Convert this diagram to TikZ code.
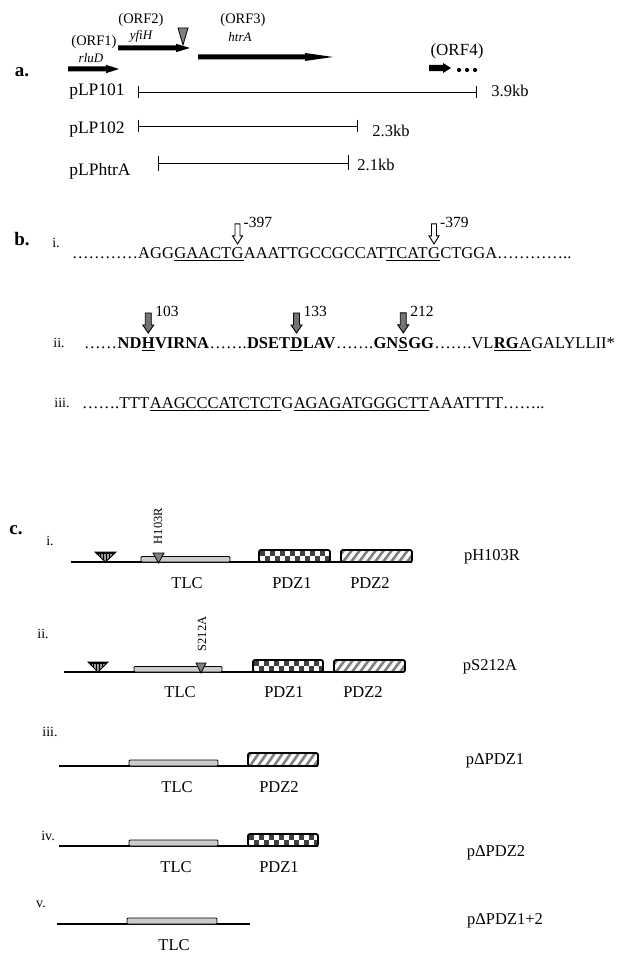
\documentclass[tikz,border=0pt]{standalone}
\usepackage{fontspec}
\setmainfont{Liberation Serif}
\usetikzlibrary{calc}
\newcommand\fs[1]{\fontsize{#1}{#1}\selectfont}
\newcommand\orfarrow[6]{\fill (#1,{#3-#5}) -- ({#2-#4},{#3-#5}) -- ({#2-#4},{#3-#6}) -- (#2,#3) -- ({#2-#4},{#3+#6}) -- ({#2-#4},{#3+#5}) -- (#1,{#3+#5}) -- cycle;}
\newcommand\stritri[3]{%
  \begin{scope}
    \clip (#1,#3) -- (#2,#3) -- ({(#1+#2)/2},{#3+10}) -- cycle;
    \fill[black!40] (#1,#3) rectangle (#2,{#3+10});
    \foreach \k in {0,...,6} \draw[line width=0.8pt] ({#1+3+\k*2.8},#3) -- ++(0,10);
    \fill (#1,#3) rectangle (#2,{#3+2.2});
  \end{scope}
  \draw[line width=0.9pt] (#1,#3) -- (#2,#3) -- ({(#1+#2)/2},{#3+10}) -- cycle;}
\newcommand\mtri[3]{\draw[line width=0.8pt, fill=black!50] (#1,#3) -- (#2,#3) -- ({(#1+#2)/2},{#3+10}) -- cycle;}
\newcommand\pdzcheck[4]{%
  \begin{scope}
    \clip[rounded corners=2pt] (#1,#2) rectangle (#3,#4);
    \fill[white] (#1,#2) rectangle (#3,#4);
    \foreach \i in {0,...,14}{\foreach \j in {0,1}{%
      \pgfmathtruncatemacro\cpar{mod(\i+\j,2)}%
      \ifnum\cpar=0 \fill[black!75] ({#1+1+5*\i},{#2+6*\j}) rectangle ++(5,6);\fi}}
  \end{scope}
  \draw[pdzborder] (#1,#2) rectangle (#3,#4);}
\newcommand\pdzhatch[4]{%
  \begin{scope}
    \clip[rounded corners=2pt] (#1,#2) rectangle (#3,#4);
    \fill[white] (#1,#2) rectangle (#3,#4);
    \foreach \k in {0,...,10}{\draw[black!50, line width=2.6pt] ({#1-6+\k*8},#4) -- ++(9,{#2-#4});}
  \end{scope}
  \draw[pdzborder] (#1,#2) rectangle (#3,#4);}
\tikzset{
  lbltxt/.style={inner sep=0pt, font=\fs{16.5}},
  orftxt/.style={inner sep=0pt, font=\fs{14.5}},
  gentxt/.style={inner sep=0pt, font=\fs{13}\itshape},
  secttxt/.style={inner sep=0pt, font=\fs{19}\bfseries},
  idxtxt/.style={inner sep=0pt, font=\fs{14}},
  numtxt/.style={inner sep=0pt, anchor=base west, font=\fs{15.5}},
  seqtxt/.style={inner sep=0pt, anchor=base west, font=\fs{16.5}},
  bseq/.style={inner sep=0pt, anchor=base west, font=\fs{16.5}\bfseries},
  uline/.style={line width=0.8pt},
  buline/.style={line width=1.3pt},
  barline/.style={line width=0.8pt},
  dnaline/.style={line width=1.4pt},
  tlcbox/.style={fill=black!20, line width=0.9pt, rounded corners=1pt},
  pdzborder/.style={line width=1.8pt, rounded corners=2pt},
  muttxt/.style={inner sep=0pt, rotate=90, font=\fs{12.5}},
  hollowdown/.pic={\draw[line width=0.9pt, fill=white] (0,0) -- (-5,-8) -- (-2.5,-8) -- (-2.5,-20) -- (2.5,-20) -- (2.5,-8) -- (5,-8) -- cycle;},
  graydown/.pic={\draw[line width=0.9pt, fill=black!55] (0,0) -- (-5.5,-8) -- (-3,-8) -- (-3,-20) -- (3,-20) -- (3,-8) -- (5.5,-8) -- cycle;}
}
\begin{document}
\begin{tikzpicture}[x=1pt,y=-1pt]
\useasboundingbox (0,0) rectangle (625,960);
\fill[white] (0,0) rectangle (625,960);
% ---------------- a ----------------
\node[secttxt] (la) at (22,72) {a.};
\node[orftxt] (orf1) at (94,42) {(ORF1)};
\node[gentxt] (rlud) at (91,58) {rluD};
\node[orftxt] (orf2) at (141,20) {(ORF2)};
\node[gentxt] (yfih) at (141,36) {yfiH};
\node[orftxt] (orf3) at (243,20) {(ORF3)};
\node[gentxt] (htra) at (240,37) {htrA};
\node[inner sep=0pt, font=\fs{17}] (orf4) at (457,51) {(ORF4)};
\orfarrow{68}{119}{69}{13}{2.5}{4.2}
\orfarrow{118}{190}{48}{14}{2.5}{4.2}
\orfarrow{198}{333}{57}{28}{2.5}{4}
\orfarrow{429}{451}{68}{8}{3.2}{5}
\fill (459,70) circle (2.1);
\fill (467,70) circle (2.1);
\fill (475,70) circle (2.1);
\draw[line width=0.8pt, fill=black!50] (178,28) -- (188,28) -- (183,45) -- cycle;
\node[inner sep=0pt, font=\fs{17.5}] (p101) at (97,92) {pLP101};
\node[inner sep=0pt, font=\fs{17.5}] (p102) at (97,130) {pLP102};
\node[inner sep=0pt, font=\fs{17.5}] (phtr) at (100,171) {pLPhtrA};
\draw[barline] (138,92) -- (476,92);
\draw[barline] (138,86) -- (138,98);
\draw[barline] (476,86) -- (476,98);
\draw[barline] (138,126) -- (357,126);
\draw[barline] (138,120) -- (138,132);
\draw[barline] (357,120) -- (357,132);
\draw[barline] (158,163) -- (348,163);
\draw[barline] (158,156) -- (158,171);
\draw[barline] (348,155) -- (348,170);
\node[lbltxt] (k39) at (510,91) {3.9kb};
\node[lbltxt] (k23) at (391,131) {2.3kb};
\node[lbltxt] (k21) at (376,165) {2.1kb};
% ---------------- b ----------------
\node[secttxt] (lb) at (22,239) {b.};
\node[idxtxt] (bi) at (56,243) {i.};
\node[idxtxt] (bii) at (59,343) {ii.};
\node[idxtxt] (biii) at (62,403) {iii.};
% sequence i
\node[seqtxt] (s1a) at (72,258) {…………AGG};
\node[seqtxt] (s1b) at (s1a.base east) {GAACT};
\node[seqtxt] (s1c) at (s1b.base east) {G};
\node[seqtxt] (s1d) at (s1c.base east) {AAATTGCCGCCAT};
\node[seqtxt] (s1e) at (s1d.base east) {TCAT};
\node[seqtxt] (s1f) at (s1e.base east) {G};
\node[seqtxt] (s1g) at (s1f.base east) {CTGGA…………..};
\draw[uline] ([yshift=-2.5pt]s1b.base west) -- ([yshift=-2.5pt]s1c.base east);
\draw[uline] ([yshift=-2.5pt]s1e.base west) -- ([yshift=-2.5pt]s1f.base east);
\pic at ($(s1c.north)+(0,-3)$) {hollowdown};
\pic at ($(s1f.north)+(0,-3)$) {hollowdown};
\node[numtxt] (n397) at ($(s1c.north)+(6,-19)$) {-397};
\node[numtxt] (n379) at ($(s1f.north)+(6,-19)$) {-379};
% sequence ii
\node[seqtxt] (s2a) at (84,348) {……};
\node[bseq] (s2b) at (s2a.base east) {ND};
\node[bseq] (s2c) at (s2b.base east) {H};
\node[bseq] (s2d) at (s2c.base east) {VIRNA};
\node[seqtxt] (s2e) at (s2d.base east) {…….};
\node[bseq] (s2f) at (s2e.base east) {DSET};
\node[bseq] (s2g) at (s2f.base east) {D};
\node[bseq] (s2h) at (s2g.base east) {LAV};
\node[seqtxt] (s2i) at (s2h.base east) {…….};
\node[bseq] (s2j) at (s2i.base east) {GN};
\node[bseq] (s2k) at (s2j.base east) {S};
\node[bseq] (s2l) at (s2k.base east) {GG};
\node[seqtxt] (s2m) at (s2l.base east) {…….VL};
\node[bseq] (s2n) at (s2m.base east) {RG};
\node[seqtxt] (s2o) at (s2n.base east) {A};
\node[seqtxt] (s2p) at (s2o.base east) {GALYLLII*};
\draw[buline] ([yshift=-2.5pt]s2c.base west) -- ([yshift=-2.5pt]s2c.base east);
\draw[buline] ([yshift=-2.5pt]s2g.base west) -- ([yshift=-2.5pt]s2g.base east);
\draw[buline] ([yshift=-2.5pt]s2k.base west) -- ([yshift=-2.5pt]s2k.base east);
\draw[buline] ([yshift=-2.5pt]s2n.base west) -- ([yshift=-2.5pt]s2o.base east);
\pic at ($(s2c.north)+(0,-4)$) {graydown};
\pic at ($(s2g.north)+(0,-4)$) {graydown};
\pic at ($(s2k.north)+(0,-4)$) {graydown};
\node[numtxt] (n103) at ($(s2c.north)+(7,-20)$) {103};
\node[numtxt] (n133) at ($(s2g.north)+(7,-20)$) {133};
\node[numtxt] (n212) at ($(s2k.north)+(7,-20)$) {212};
% sequence iii
\node[seqtxt] (s3a) at (82,408) {…….TTT};
\node[seqtxt] (s3b) at (s3a.base east) {AAGCCCATCTCT};
\node[seqtxt] (s3c) at (s3b.base east) {G};
\node[seqtxt] (s3d) at (s3c.base east) {AGAGATGGGCTT};
\node[seqtxt] (s3e) at (s3d.base east) {AAATTTT……..};
\draw[uline] ([yshift=-2.5pt]s3b.base west) -- ([yshift=-2.5pt]s3b.base east);
\draw[uline] ([yshift=-2.5pt]s3d.base west) -- ([yshift=-2.5pt]s3d.base east);
% ---------------- c ----------------
\node[secttxt] (lc) at (16,530) {c.};
% row i
\node[idxtxt] (ci) at (50,541) {i.};
\draw[dnaline] (71,562) -- (412,562);
\stritri{95}{116}{552}
\draw[tlcbox] (141,556.5) rectangle (230,562);
\mtri{153}{164}{553}
\pdzcheck{259}{550}{330}{562}
\pdzhatch{341}{550}{412}{562}
\node[muttxt] (h103) at (158,526) {H103R};
\node[lbltxt] (tlc1) at (187,583) {TLC};
\node[lbltxt] (pa1) at (292,583) {PDZ1};
\node[lbltxt] (pb1) at (370,583) {PDZ2};
\node[lbltxt] (ph) at (492,557) {pH103R};
% row ii
\node[idxtxt] (cii) at (43,634) {ii.};
\draw[dnaline] (64,672) -- (404,672);
\stritri{88}{108}{662}
\draw[tlcbox] (134,666.5) rectangle (222,672);
\mtri{196}{206}{663}
\pdzcheck{253}{660}{323}{672}
\pdzhatch{334}{660}{405}{672}
\node[muttxt] (s212) at (202,634) {S212A};
\node[lbltxt] (tlc2) at (180,692) {TLC};
\node[lbltxt] (pa2) at (284,692) {PDZ1};
\node[lbltxt] (pb2) at (363,692) {PDZ2};
\node[lbltxt] (ps) at (490,667) {pS212A};
% row iii
\node[idxtxt] (ciii) at (50,732) {iii.};
\draw[dnaline] (59,766) -- (318,766);
\draw[tlcbox] (129,760) rectangle (218,766);
\pdzhatch{248}{753}{318}{766}
\node[lbltxt] (tlc3) at (177,787) {TLC};
\node[lbltxt] (pb3) at (279,787) {PDZ2};
\node[lbltxt] (pd1) at (495,761) {pΔPDZ1};
% row iv
\node[idxtxt] (civ) at (48,836) {iv.};
\draw[dnaline] (59,846) -- (318,846);
\draw[tlcbox] (129,840) rectangle (218,846);
\pdzcheck{248}{834}{318}{846}
\node[lbltxt] (tlc4) at (176,867) {TLC};
\node[lbltxt] (pa4) at (279,867) {PDZ1};
\node[lbltxt] (pd2) at (496,853) {pΔPDZ2};
% row v
\node[idxtxt] (cv) at (41,904) {v.};
\draw[dnaline] (57,924) -- (250,924);
\draw[tlcbox] (127,918) rectangle (217,924);
\node[lbltxt] (tlc5) at (174,945) {TLC};
\node[lbltxt] (pd12) at (505,921) {pΔPDZ1+2};
\end{tikzpicture}
\end{document}
